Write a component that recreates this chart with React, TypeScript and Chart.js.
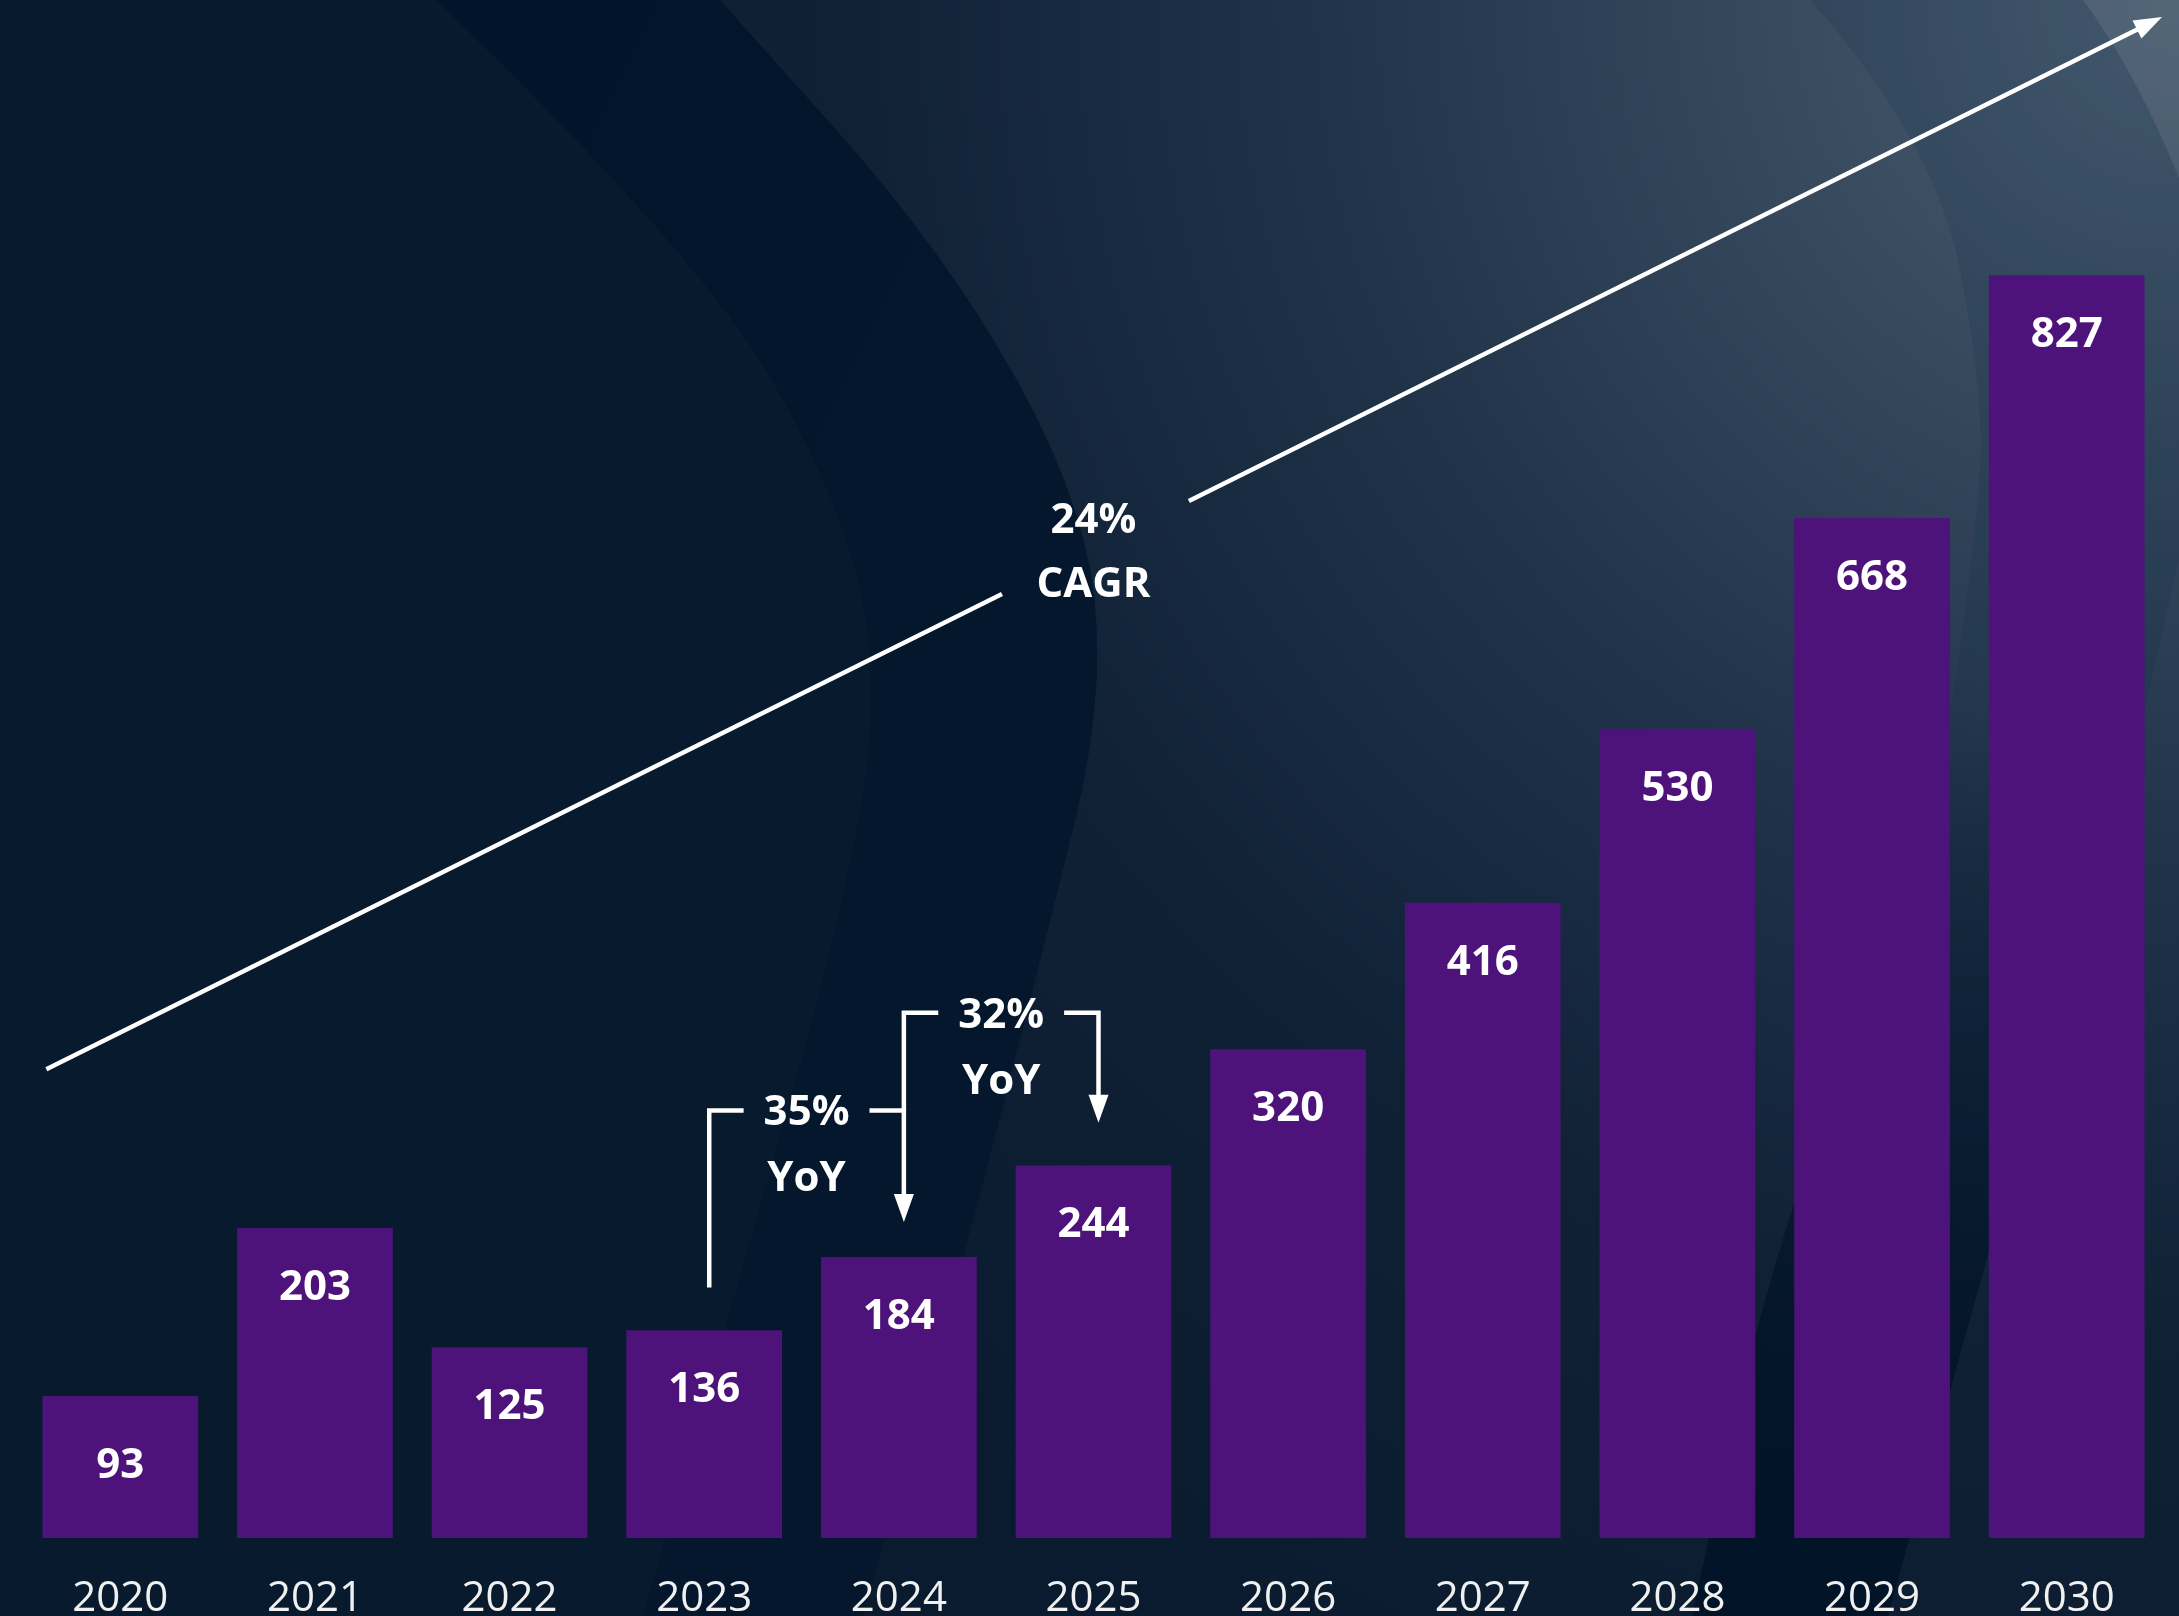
import React, { useEffect, useRef } from 'react';
import { Chart, registerables } from 'chart.js';

Chart.register(...registerables);

const W = 2179;
const H = 1616;

// ---- data ----
const years = ['2020', '2021', '2022', '2023', '2024', '2025', '2026', '2027', '2028', '2029', '2030'];
const values = [93, 203, 125, 136, 184, 244, 320, 416, 530, 668, 827];
const yMax = 1000;

// CAGR arrow (x in category index units, y in data units)
const cagrFrom = [-0.38, 307];
const cagrTo = [10.49, 996];
const cagrGap = [4.53, 5.49];
const cagrLabel = ['24%', 'CAGR'];
const cagrLabelX = 5;
const cagrLabelY = [668, 626];

// YoY brackets
const yoyFrom = [3, 4];
const yoyTo = [4, 5];
const yoyStart = [164, 280];
const yoyLevel = [280, 344];
const yoyTip = [207, 272];
const yoyPct = ['35%', '32%'];
const yoyWord = 'YoY';

const FONT = '"Open Sans", "Noto Sans", "DejaVu Sans", sans-serif';
const BAR_COLOR = '#4e137a';
const TEXT_DY = 3;

type Pt = [number, number];

function smoothPath(ctx: CanvasRenderingContext2D, pts: Pt[], move: boolean) {
  if (move) ctx.moveTo(pts[0][0], pts[0][1]);
  else ctx.lineTo(pts[0][0], pts[0][1]);
  for (let i = 1; i < pts.length - 1; i++) {
    const mx = (pts[i][0] + pts[i + 1][0]) / 2;
    const my = (pts[i][1] + pts[i + 1][1]) / 2;
    ctx.quadraticCurveTo(pts[i][0], pts[i][1], mx, my);
  }
  const last = pts[pts.length - 1];
  ctx.lineTo(last[0], last[1]);
}

const backgroundPlugin = {
  id: 'bg',
  beforeDraw(chart: any) {
    const ctx: CanvasRenderingContext2D = chart.ctx;
    const w = chart.width;
    const h = chart.height;
    ctx.save();
    ctx.fillStyle = '#081a2e';
    ctx.fillRect(0, 0, w, h);

    const bandLeft: Pt[] = [[436, 0], [695, 250], [842, 500], [882, 700], [833, 950], [733, 1300], [643, 1616]];
    const bandRight: Pt[] = [[863, 1616], [953, 1300], [1043, 950], [1105, 700], [1084, 500], [944, 250], [720, 0]];

    // lighter region to the right of the dark band
    ctx.beginPath();
    ctx.moveTo(w, 0);
    ctx.lineTo(720, 0);
    smoothPath(ctx, [...bandRight].reverse(), false);
    ctx.lineTo(w, h);
    ctx.closePath();
    const rg = ctx.createRadialGradient(w, 0, 0, w, 0, 1900);
    rg.addColorStop(0, '#4f6274');
    rg.addColorStop(0.2, '#384b5f');
    rg.addColorStop(0.45, '#203349');
    rg.addColorStop(0.7, '#102136');
    rg.addColorStop(1, '#0a1b2f');
    ctx.fillStyle = rg;
    ctx.fill();

    // subtle swoosh top right (slightly darker, bluer)
    ctx.beginPath();
    smoothPath(ctx, [[1810, 0], [1935, 140], [1985, 400], [1975, 540], [1953, 700]], true);
    ctx.lineTo(2147, 700);
    smoothPath(ctx, [[2147, 700], [2179, 558]], false);
    ctx.lineTo(2179, 178);
    ctx.quadraticCurveTo(2135, 70, 2083, 0);
    ctx.closePath();
    ctx.fillStyle = 'rgba(22, 48, 75, 0.2)';
    ctx.fill();

    ctx.beginPath();
    ctx.moveTo(2083, 0);
    ctx.quadraticCurveTo(2135, 70, 2179, 178);
    ctx.lineTo(2179, 0);
    ctx.closePath();
    ctx.fillStyle = 'rgba(120, 140, 160, 0.12)';
    ctx.fill();

    // dark band bottom right
    ctx.beginPath();
    smoothPath(ctx, [[1953, 700], [1870, 980], [1760, 1300], [1692, 1616]], true);
    ctx.lineTo(1888, 1616);
    smoothPath(ctx, [[1888, 1616], [2030, 1100], [2147, 700]], false);
    ctx.closePath();
    const dg = ctx.createLinearGradient(0, 650, 0, 1500);
    dg.addColorStop(0, 'rgba(2, 20, 40, 0)');
    dg.addColorStop(1, 'rgba(2, 20, 40, 1)');
    ctx.fillStyle = dg;
    ctx.fill();

    // main dark band
    ctx.beginPath();
    smoothPath(ctx, bandLeft, true);
    smoothPath(ctx, bandRight, false);
    ctx.closePath();
    const bg = ctx.createLinearGradient(500, 0, 1100, 300);
    bg.addColorStop(0, '#021429');
    bg.addColorStop(1, '#04172c');
    ctx.fillStyle = bg;
    ctx.fill();
    ctx.restore();
  },
};

function arrowHead(ctx: CanvasRenderingContext2D, tip: Pt, from: Pt, len = 28, hw = 10) {
  const dx = tip[0] - from[0];
  const dy = tip[1] - from[1];
  const d = Math.hypot(dx, dy);
  const ux = dx / d;
  const uy = dy / d;
  const bx = tip[0] - ux * len;
  const by = tip[1] - uy * len;
  ctx.beginPath();
  ctx.moveTo(tip[0], tip[1]);
  ctx.lineTo(bx - uy * hw, by + ux * hw);
  ctx.lineTo(bx + uy * hw, by - ux * hw);
  ctx.closePath();
  ctx.fill();
  return [bx + ux * 2, by + uy * 2] as Pt;
}

const annotationPlugin = {
  id: 'annot',
  afterDatasetsDraw(chart: any) {
    const ctx: CanvasRenderingContext2D = chart.ctx;
    const xs = chart.scales.x;
    const ys = chart.scales.y;
    const px = (v: number) => xs.getPixelForValue(v);
    const py = (v: number) => ys.getPixelForValue(v);

    ctx.save();
    // bar value labels
    ctx.font = `bold 42px ${FONT}`;
    ctx.fillStyle = '#ffffff';
    ctx.textAlign = 'center';
    ctx.textBaseline = 'middle';
    const meta = chart.getDatasetMeta(0);
    meta.data.forEach((bar: any, i: number) => {
      const { x, y, base } = bar.getProps(['x', 'y', 'base'], true);
      const hgt = base - y;
      const ly = hgt < 150 ? (y + base) / 2 - 1 : y + 56 + TEXT_DY + 1;
      ctx.fillText(String(values[i]), x, ly);
    });

    ctx.strokeStyle = '#ffffff';
    ctx.fillStyle = '#ffffff';
    ctx.lineWidth = 4.5;
    ctx.lineJoin = 'miter';
    ctx.lineCap = 'butt';

    // CAGR arrow
    const p0: Pt = [px(cagrFrom[0]), py(cagrFrom[1])];
    const p1: Pt = [px(cagrTo[0]), py(cagrTo[1])];
    const at = (xi: number): Pt => {
      const t = (xi - cagrFrom[0]) / (cagrTo[0] - cagrFrom[0]);
      return [p0[0] + (p1[0] - p0[0]) * t, p0[1] + (p1[1] - p0[1]) * t];
    };
    const g0 = at(cagrGap[0]);
    const g1 = at(cagrGap[1]);
    ctx.beginPath();
    ctx.moveTo(p0[0], p0[1]);
    ctx.lineTo(g0[0], g0[1]);
    ctx.stroke();
    const base1 = arrowHead(ctx, p1, p0);
    ctx.beginPath();
    ctx.moveTo(g1[0], g1[1]);
    ctx.lineTo(base1[0], base1[1]);
    ctx.stroke();

    ctx.font = `bold 42px ${FONT}`;
    ctx.fillText(cagrLabel[0], px(cagrLabelX), py(cagrLabelY[0]) + TEXT_DY);
    ctx.fillText(cagrLabel[1], px(cagrLabelX), py(cagrLabelY[1]) + TEXT_DY);

    // YoY brackets
    for (let k = 0; k < yoyPct.length; k++) {
      const xa = px(yoyFrom[k]) + 5;
      const xb = px(yoyTo[k]) + 5;
      const y0 = py(yoyStart[k]);
      const yl = py(yoyLevel[k]);
      const yt = py(yoyTip[k]);
      const mid = (xa + xb) / 2;
      const gap = ctx.measureText(yoyPct[k]).width / 2 + 20;
      ctx.beginPath();
      ctx.moveTo(xa, y0);
      ctx.lineTo(xa, yl);
      ctx.lineTo(mid - gap, yl);
      ctx.stroke();
      const b = arrowHead(ctx, [xb, yt], [xb, yl]);
      ctx.beginPath();
      ctx.moveTo(mid + gap, yl);
      ctx.lineTo(xb, yl);
      ctx.lineTo(b[0], b[1]);
      ctx.stroke();
      ctx.fillText(yoyPct[k], mid, yl + TEXT_DY);
      ctx.fillText(yoyWord, mid, yl + 66 + TEXT_DY);
    }
    ctx.restore();
  },
};

export default function App() {
  const ref = useRef<HTMLCanvasElement>(null);

  useEffect(() => {
    const canvas = ref.current;
    if (!canvas) return;
    const chart = new Chart(canvas, {
      type: 'bar',
      data: {
        labels: years,
        datasets: [
          {
            data: values,
            backgroundColor: BAR_COLOR,
            borderWidth: 0,
            barPercentage: 0.8,
            categoryPercentage: 1.0,
          },
        ],
      },
      options: {
        responsive: false,
        animation: false,
        devicePixelRatio: 1,
        layout: { padding: { top: 11, left: 23, right: 15, bottom: 0 } },
        plugins: {
          legend: { display: false },
          tooltip: { enabled: false },
          title: { display: false },
        },
        scales: {
          x: {
            grid: { display: false },
            border: { display: false },
            ticks: {
              color: '#f0f0f0',
              font: { family: FONT, size: 42, weight: '400' as any },
              padding: 28,
              maxRotation: 0,
              autoSkip: false,
            },
            afterFit: (scale: any) => {
              scale.height = 78;
            },
          },
          y: {
            display: false,
            min: 0,
            max: yMax,
          },
        },
      },
      plugins: [backgroundPlugin, annotationPlugin],
    });
    return () => chart.destroy();
  }, []);

  return (
    <div style={{ position: 'absolute', left: 0, top: 0, width: W, height: H, overflow: 'hidden' }}>
      <canvas ref={ref} width={W} height={H} style={{ display: 'block', width: W, height: H }} />
    </div>
  );
}
